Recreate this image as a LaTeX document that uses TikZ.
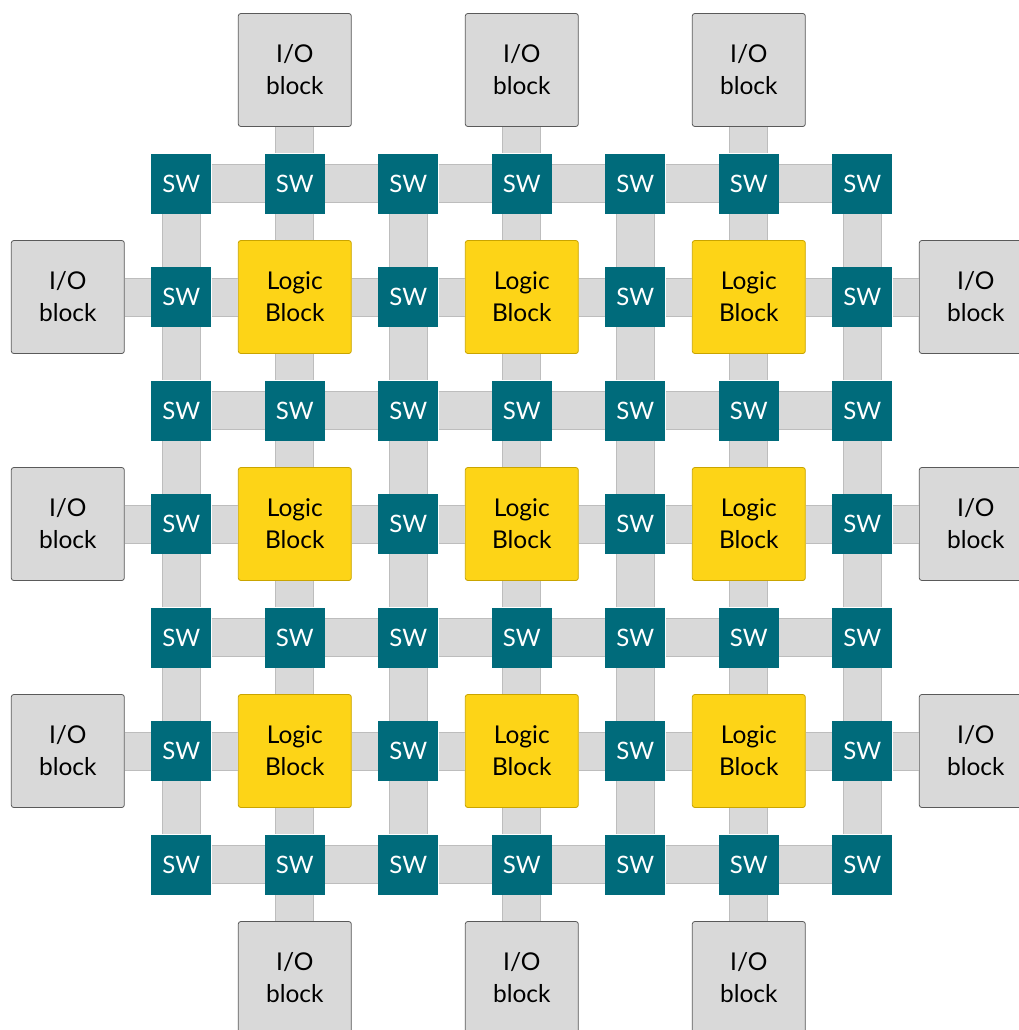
\documentclass[tikz,border=0pt]{standalone}
\usepackage{fontspec}
\setmainfont{Lato}
\definecolor{swteal}{HTML}{006B7B}
\definecolor{lbyellow}{HTML}{FDD417}
\definecolor{lbborder}{HTML}{C9A400}
\definecolor{iofill}{HTML}{D9D9D9}
\definecolor{ioborder}{HTML}{5A5A5A}
\definecolor{barfill}{HTML}{D9D9D9}
\definecolor{barborder}{HTML}{BDBDBD}
\tikzset{
  swbox/.style={fill=swteal, text=white, minimum width=60pt, minimum height=60pt, inner sep=0pt,
    font=\fontsize{24}{30}\selectfont},
  logicbox/.style={fill=lbyellow, draw=lbborder, line width=0.8pt, rounded corners=2.5pt,
    minimum width=113pt, minimum height=113pt, inner sep=0pt, align=center,
    font=\fontsize{24.5}{32}\selectfont},
  iobox/.style={fill=iofill, draw=ioborder, line width=0.8pt, rounded corners=2.5pt,
    minimum width=113pt, minimum height=113pt, inner sep=0pt, align=center,
    font=\fontsize{24.5}{32}\selectfont},
  channel/.style={draw=barborder, line width=1pt, double=barfill, double distance=37pt},
}
\begin{document}
\begin{tikzpicture}[x=1pt,y=-1pt]
\useasboundingbox (0,0) rectangle (1019,1030);
\clip (0,0) rectangle (1019,1030);
% grid nodes
\foreach \i in {0,...,6}{
  \foreach \j in {0,...,6}{
    \pgfmathsetmacro{\cx}{181.3+113.5*\i}
    \pgfmathsetmacro{\cy}{183.5+113.5*\j}
    \pgfmathtruncatemacro{\oi}{mod(\i,2)}
    \pgfmathtruncatemacro{\oj}{mod(\j,2)}
    \ifnum\oi=1 \ifnum\oj=1
      \node[logicbox] (n-\i-\j) at (\cx,\cy) {Logic\\Block};
    \else
      \node[swbox] (n-\i-\j) at (\cx,\cy) {SW};
    \fi\else
      \node[swbox] (n-\i-\j) at (\cx,\cy) {SW};
    \fi
  }
}
% I/O blocks
\foreach \k in {1,3,5}{
  \pgfmathsetmacro{\c}{181.3+113.5*\k}
  \node[iobox] (iot-\k) at (\c,70) {I/O\\block};
  \node[iobox] (iob-\k) at (\c,978) {I/O\\block};
  \pgfmathsetmacro{\r}{183.5+113.5*\k}
  \node[iobox] (iol-\k) at (67.8,\r) {I/O\\block};
  \node[iobox] (ior-\k) at (975.8,\r) {I/O\\block};
}
% channels
\foreach \a in {0,...,6}{
  \foreach \b [count=\bb from 1] in {0,...,5}{
    \draw[channel] (n-\b-\a) -- (n-\bb-\a);
    \draw[channel] (n-\a-\b) -- (n-\a-\bb);
  }
}
\foreach \k in {1,3,5}{
  \draw[channel] (iot-\k) -- (n-\k-0);
  \draw[channel] (n-\k-6) -- (iob-\k);
  \draw[channel] (iol-\k) -- (n-0-\k);
  \draw[channel] (n-6-\k) -- (ior-\k);
}
\end{tikzpicture}
\end{document}
